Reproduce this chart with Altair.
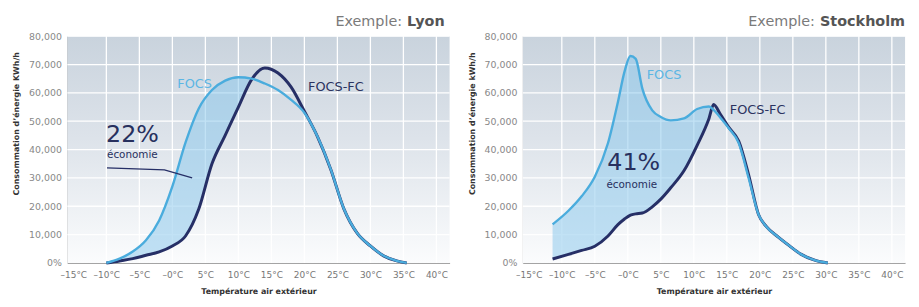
import altair as alt
import pandas as pd

# ---- axis ticks / labels ----
x_ticks = [-15, -10, -5, 0, 5, 10, 15, 20, 25, 30, 35, 40]
x_labels = ["–15°C", "–10°C", "–5°C", "–0°C", "5°C", "10°C", "15°C", "20°C", "25°C", "30°C", "35°C", "40°C"]
y_ticks = [0, 10000, 20000, 30000, 40000, 50000, 60000, 70000, 80000]
y_labels = ["0%", "10,000", "20,000", "30,000", "40,000", "50,000", "60,000", "70,000", "80,000"]

# ---- Lyon ----
lyon_temp = [-10, -8, -6, -4, -2, 0, 2, 4, 6, 8, 10, 12, 14, 16, 18, 20, 22, 24, 26, 28, 30, 32, 34, 35.5]
lyon_focs = [0, 1500, 4000, 8000, 15000, 27000, 42500, 54500, 61000, 64300, 65500, 65000, 63300, 61000,
             57500, 53000, 44500, 33000, 19000, 10500, 6000, 2500, 700, 0]
lyon_focs_fc = [0, 700, 1500, 2700, 3900, 6000, 9500, 19000, 35000, 45000, 55000, 64700, 68800, 67000,
                62000, 53500, 44500, 33000, 19000, 10500, 6000, 2500, 700, 0]
lyon_leader_t = [-9.9, -1.2, 3.0]
lyon_leader_v = [33500, 32800, 30000]

# ---- Stockholm ----
sthlm_temp = [-11.4, -9, -7, -5, -3, -1.5, -0.5, 0.4, 1.2, 2.2, 3.7, 5, 6.5, 8.5, 10.5, 12.3, 13, 14,
              15.3, 16.8, 18.3, 19.8, 21, 22.8, 24.5, 26.2, 28.3, 30.3]
sthlm_focs = [13600, 18400, 23500, 30400, 42300, 56800, 67500, 73000, 72000, 61500, 53800, 51500, 50300,
              51000, 54300, 55200, 54000, 51300, 47500, 42300, 30000, 17100, 12800, 9100, 6000, 3100, 1000, 0]
sthlm_focs_fc = [1400, 3000, 4400, 5900, 9500, 13500, 15500, 16900, 17300, 17600, 19800, 22500, 26500,
                 32500, 41500, 51000, 55900, 52500, 47800, 43000, 31100, 17100, 12800, 9100, 6000, 3100, 1000, 0]

W, H = 386, 229
FONT = "DejaVu Sans"
LIGHT = "#4aacdd"
DARK = "#262f66"

xs = alt.Scale(domain=[-15.9, 42], nice=False, zero=False)
ys = alt.Scale(domain=[0, 80000], nice=False, zero=False)


def label_expr(ticks, labels):
    parts = [f"datum.value == {v} ? '{l}'" for v, l in zip(ticks, labels)]
    return " : ".join(parts) + " : ''"


x_expr = label_expr(x_ticks, x_labels)
y_expr = label_expr(y_ticks, y_labels)

one = pd.DataFrame({"a": [0]})


def make_axes(ytitle):
    xaxis = alt.Axis(values=x_ticks, labelExpr=x_expr, grid=False, ticks=False,
                     labelPadding=8, labelFont=FONT, labelFontSize=9, labelColor="#777",
                     labelOverlap=False, labelFlush=False,
                     title="Température air extérieur", titleFont=FONT, titleFontSize=8,
                     titleFontWeight="bold", titleColor="#333", titlePadding=8,
                     domainColor="#9a9a9a", domainWidth=1)
    yaxis = alt.Axis(values=y_ticks, labelExpr=y_expr, grid=False, ticks=False,
                     labelPadding=6, labelFont=FONT, labelFontSize=9.5, labelColor="#888",
                     labelOverlap=False,
                     title=ytitle, titleFont=FONT, titleFontSize=8, titleFontWeight="bold",
                     titleColor="#333", titleAngle=270, titleX=-51, titleY=88,
                     titleAlign="center", titleBaseline="middle",
                     domainColor="#9a9a9a", domainWidth=1)
    return xaxis, yaxis


def panel(temp, focs, fc, city, ytitle, city_dx, notes_spec, leader=None):
    xaxis, yaxis = make_axes(ytitle)
    X = lambda f: alt.X(f, scale=xs, axis=xaxis)
    Y = lambda f: alt.Y(f, scale=ys, axis=yaxis)

    df = pd.DataFrame({"t": temp, "focs": focs, "fc": fc})

    bg = alt.Chart(one).mark_rect(
        fill=alt.Gradient(
            gradient="linear",
            stops=[alt.GradientStop(color="#c9d3dd", offset=0),
                   alt.GradientStop(color="#dde3ea", offset=0.45),
                   alt.GradientStop(color="#fbfcfd", offset=1)],
            x1=0, x2=0, y1=0, y2=1,
        )
    ).encode(x=alt.value(0), x2=alt.value(W), y=alt.value(0), y2=alt.value(H))

    vgrid = alt.Chart(pd.DataFrame({"t": x_ticks[1:]})).mark_rule(color="white", strokeWidth=1.3).encode(
        x=X("t:Q"))
    hgrid = alt.Chart(pd.DataFrame({"focs": y_ticks[1:]})).mark_rule(color="white", strokeWidth=1.3).encode(
        y=Y("focs:Q"))

    area = alt.Chart(df).transform_calculate(lo="min(datum.focs, datum.fc)").mark_area(
        interpolate="monotone", color="#86c6ec", opacity=0.5
    ).encode(x=X("t:Q"), y=Y("focs:Q"), y2="lo:Q")
    dark = alt.Chart(df).mark_line(interpolate="monotone", color=DARK, strokeWidth=3).encode(
        x=X("t:Q"), y=Y("fc:Q"))
    light = alt.Chart(df).mark_line(interpolate="monotone", color=LIGHT, strokeWidth=2.4).encode(
        x=X("t:Q"), y=Y("focs:Q"))

    layers = [bg, vgrid, hgrid, area, dark, light]

    if leader is not None:
        layers.append(
            alt.Chart(pd.DataFrame({"t": leader[0], "focs": leader[1]})).mark_line(
                color=DARK, strokeWidth=1.3).encode(x=X("t:Q"), y=Y("focs:Q")))

    for t, v, txt, kw in notes_spec:
        layers.append(
            alt.Chart(pd.DataFrame({"t": [t], "focs": [v]})).mark_text(font=FONT, **kw).encode(
                x=X("t:Q"), y=Y("focs:Q"), text=alt.value(txt)))

    ex1 = alt.Chart(one).mark_text(font=FONT, fontSize=14.5, color="#7a7a7a", align="right",
                                   baseline="alphabetic").encode(
        x=alt.value(W - city_dx), y=alt.value(-10), text=alt.value("Exemple:"))
    ex2 = alt.Chart(one).mark_text(font=FONT, fontSize=14.5, fontWeight="bold", color="#555",
                                   align="right", baseline="alphabetic").encode(
        x=alt.value(W - (5 if city == "Lyon" else 0)), y=alt.value(-10), text=alt.value(city))
    layers += [ex1, ex2]
    return alt.layer(*layers).properties(width=W, height=H)


lyon_notes = [
    (0.75, 63200, "FOCS", dict(fontSize=13, color="#5cb6e4", align="left", baseline="middle")),
    (20.55, 62200, "FOCS-FC", dict(fontSize=13, color="#2b3360", align="left", baseline="middle")),
    (-10.05, 42600, "22%", dict(fontSize=24, color="#27305e", align="left", baseline="alphabetic")),
    (-9.9, 37000, "économie", dict(fontSize=10.5, color="#27305e", align="left", baseline="alphabetic")),
]
sthlm_notes = [
    (2.85, 66300, "FOCS", dict(fontSize=13, color="#5cb6e4", align="left", baseline="middle")),
    (15.45, 53800, "FOCS-FC", dict(fontSize=13, color="#2b3360", align="left", baseline="middle")),
    (0.9, 32800, "41%", dict(fontSize=24, color="#27305e", align="center", baseline="alphabetic")),
    (0.6, 26300, "économie", dict(fontSize=10.5, color="#27305e", align="center", baseline="alphabetic")),
]

left = panel(lyon_temp, lyon_focs, lyon_focs_fc, "Lyon", "Consommation d’énergie KWh/h", 48, lyon_notes,
             leader=(lyon_leader_t, lyon_leader_v))
right = panel(sthlm_temp, sthlm_focs, sthlm_focs_fc, "Stockholm", "Consommation d’énergie kWh/h", 91, sthlm_notes)

chart = alt.hconcat(left, right, spacing=18).properties(
    padding={"left": 5, "right": 5, "top": 5, "bottom": 5},
    background="white",
).configure_view(strokeWidth=0)

chart.save("out.html", embed_options={"renderer": "svg", "actions": False})
